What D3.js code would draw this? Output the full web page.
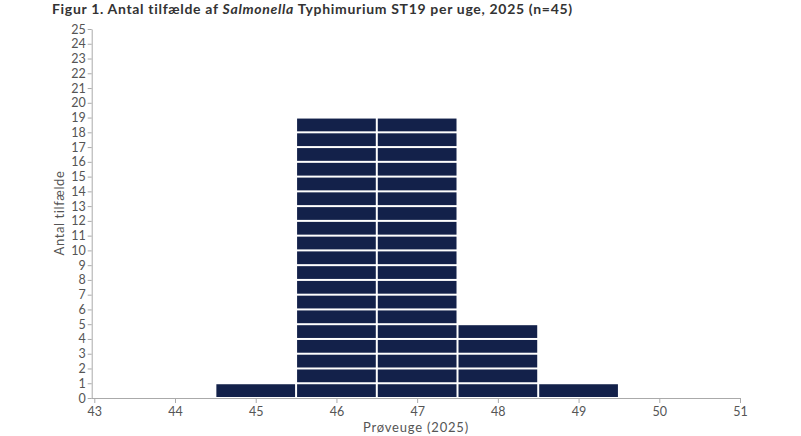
<!DOCTYPE html>
<html>
<head>
<meta charset="utf-8">
<script src="https://cdn.jsdelivr.net/npm/d3@7"></script>
<style>
  body { margin: 0; background: #fff; }
  text { font-family: "Lato", "Open Sans", sans-serif; }
</style>
</head>
<body>
<div id="chart"></div>
<script>
// weeks and number of cases per week
let weeks = [45, 46, 47, 48, 49];
let cases = [1, 19, 19, 5, 1];
let xTicks = [43, 44, 45, 46, 47, 48, 49, 50, 51];
let yTicks = d3.range(0, 26);

let width = 801,
    height = 436;
let margin = {top: 29, right: 61, bottom: 38, left: 92};

let svg = d3.select('#chart').append('svg')
    .attr('width', width)
    .attr('height', height);

let x = d3.scaleLinear()
    .domain([43, 51])
    .range([94.3, 740]);

let y = d3.scaleLinear()
    .domain([0, 25])
    .range([height - margin.bottom, margin.top]);

// title
let title = svg.append('text')
    .attr('x', 52)
    .attr('y', 14)
    .attr('font-size', 14)
    .attr('font-weight', 'bold')
    .attr('letter-spacing', 0.68)
    .attr('fill', '#333');
title.append('tspan').text('Figur 1. Antal tilfælde af ');
title.append('tspan').attr('font-style', 'italic').text('Salmonella');
title.append('tspan').text(' Typhimurium ST19 per uge, 2025 (n=45)');

// one block per case
let blocks = [];
weeks.forEach(function (w, i) {
    d3.range(cases[i]).forEach(function (k) {
        blocks.push({week: w, k: k});
    });
});

svg.append('g').selectAll('rect')
    .data(blocks)
    .enter().append('rect')
    .attr('x', d => x(d.week - 0.5) + 1)
    .attr('width', d => x(d.week + 0.5) - x(d.week - 0.5) - 2)
    .attr('y', d => y(d.k + 1) + 1)
    .attr('height', d => y(d.k) - y(d.k + 1) - 2)
    .attr('fill', '#13214a');

// axes
let xAxis = svg.append('g')
    .attr('transform', 'translate(0,' + y(0) + ')')
    .call(d3.axisBottom(x).tickValues(xTicks).tickSize(5).tickPadding(4).tickSizeOuter(0));

let yAxis = svg.append('g')
    .attr('transform', 'translate(' + 91.7 + ',0)')
    .call(d3.axisLeft(y).tickValues(yTicks).tickSize(4).tickPadding(2).tickSizeOuter(0));

xAxis.select('.domain').attr('d', 'M91.7,0.5H740.5').attr('stroke', '#aaa');
yAxis.select('.domain').attr('stroke', '#aaa');
[xAxis, yAxis].forEach(function (a) {
    a.selectAll('.tick line').attr('stroke', '#aaa');
    a.selectAll('.tick text')
        .attr('fill', '#555')
        .attr('font-size', 12.5)
        .style('font-family', '"Lato", "Open Sans", sans-serif');
});

// axis titles
svg.append('text')
    .attr('x', 416)
    .attr('y', 432)
    .attr('text-anchor', 'middle')
    .attr('font-size', 13)
    .attr('letter-spacing', 0.8)
    .attr('fill', '#555')
    .text('Prøveuge (2025)');

svg.append('text')
    .attr('transform', 'translate(64,213) rotate(-90)')
    .attr('text-anchor', 'middle')
    .attr('font-size', 13)
    .attr('letter-spacing', 0.6)
    .attr('fill', '#555')
    .text('Antal tilfælde');
</script>
</body>
</html>
